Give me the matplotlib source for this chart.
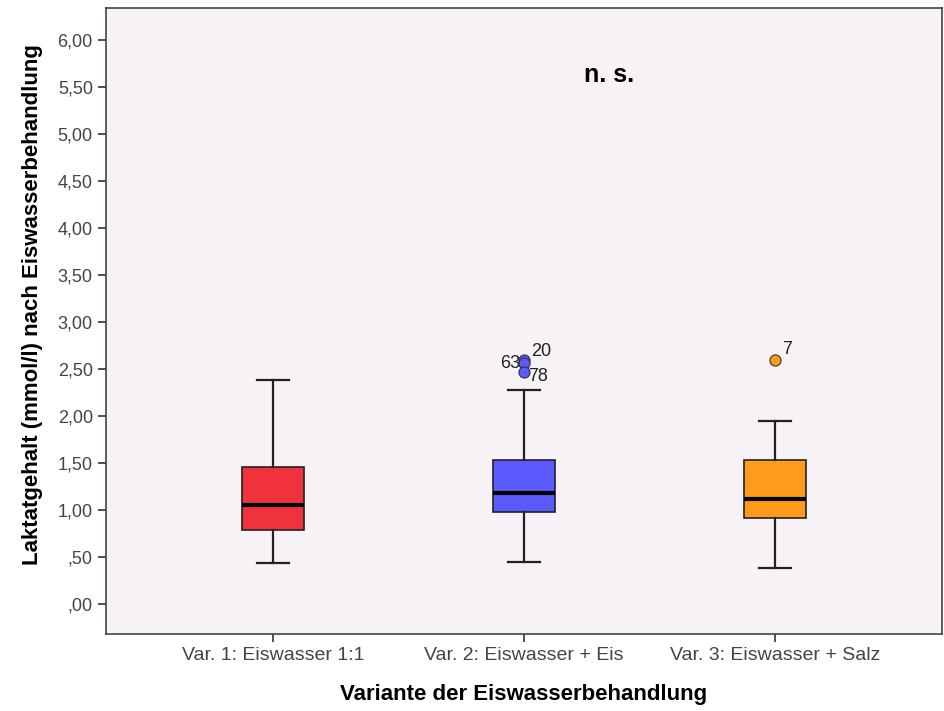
import matplotlib
matplotlib.use("Agg")
import matplotlib.pyplot as plt

plt.rcParams['font.family'] = ['Liberation Sans', 'DejaVu Sans']

# Box summaries per variant: lower whisker, Q1, median, Q3, upper whisker
groups = ["Var. 1: Eiswasser 1:1", "Var. 2: Eiswasser + Eis", "Var. 3: Eiswasser + Salz"]
whisker_low = [0.44, 0.45, 0.38]
q1 = [0.785, 0.98, 0.915]
median = [1.05, 1.18, 1.12]
q3 = [1.46, 1.53, 1.53]
whisker_high = [2.38, 2.28, 1.95]
colors = ["#EF323C", "#5A5AFF", "#FF9A1A"]

# Outliers (group index, value, case label)
out_group = [1, 1, 1, 2]
out_value = [2.59, 2.56, 2.47, 2.59]
out_label = ["20", "63", "78", "7"]

ytick_vals = [0, 0.5, 1, 1.5, 2, 2.5, 3, 3.5, 4, 4.5, 5, 5.5, 6]
ytick_labels = [",00", ",50", "1,00", "1,50", "2,00", "2,50", "3,00", "3,50",
                "4,00", "4,50", "5,00", "5,50", "6,00"]

fig = plt.figure(figsize=(9.44, 7.11), dpi=100)
ax = fig.add_axes([0.1123, 0.1083, 0.8856, 0.8805])
ax.set_facecolor("#F7F2F6")

stats = []
for i in range(3):
    stats.append({"whislo": whisker_low[i], "q1": q1[i], "med": median[i],
                  "q3": q3[i], "whishi": whisker_high[i], "fliers": []})

bp = ax.bxp(stats, positions=[1, 2, 3], widths=0.25, patch_artist=True,
            showfliers=False,
            boxprops=dict(edgecolor="#222222", linewidth=1.2),
            medianprops=dict(color="black", linewidth=3),
            whiskerprops=dict(color="#222222", linewidth=1.6),
            capprops=dict(color="#222222", linewidth=1.6),
            capwidths=0.125)
for patch, c in zip(bp["boxes"], colors):
    patch.set_facecolor(c)

for g, v in zip(out_group, out_value):
    ax.plot(g + 1, v, "o", ms=8, mfc=colors[g], mec="#333333", mew=0.8, zorder=5)

# case labels next to outliers
ax.text(2.03, 2.60, out_label[0], fontsize=13, ha="left", va="bottom", color="#222222")
ax.text(1.985, 2.56, out_label[1], fontsize=13, ha="right", va="center", color="#222222")
ax.text(2.015, 2.42, out_label[2], fontsize=13, ha="left", va="center", color="#222222")
ax.text(3.03, 2.62, out_label[3], fontsize=13, ha="left", va="bottom", color="#222222")

ax.text(2.34, 5.63, "n. s.", fontsize=18, fontweight="bold", ha="center", va="center")

ax.set_xlim(0.335, 3.665)
ax.set_ylim(-0.32, 6.34)
ax.set_yticks(ytick_vals)
ax.set_yticklabels(ytick_labels)
ax.set_xticks([1, 2, 3])
ax.set_xticklabels(groups)
ax.tick_params(axis="both", colors="#333333", length=6, width=1.2)
ax.tick_params(axis="y", labelsize=13)
ax.tick_params(axis="x", labelsize=14)
for lab in ax.get_xticklabels() + ax.get_yticklabels():
    lab.set_color("#444444")

for s in ax.spines.values():
    s.set_color("#444444")
    s.set_linewidth(1.2)

ax.set_xlabel("Variante der Eiswasserbehandlung", fontsize=16, fontweight="bold")
ax.set_ylabel("Laktatgehalt (mmol/l) nach Eiswasserbehandlung", fontsize=16,
              fontweight="bold")
ax.xaxis.set_label_coords(0.5, -0.096)
ax.yaxis.set_label_coords(-0.088, 0.526)
ax.xaxis.label.set_va("center")
ax.yaxis.label.set_va("center")

fig.savefig("out.png", dpi=100)
